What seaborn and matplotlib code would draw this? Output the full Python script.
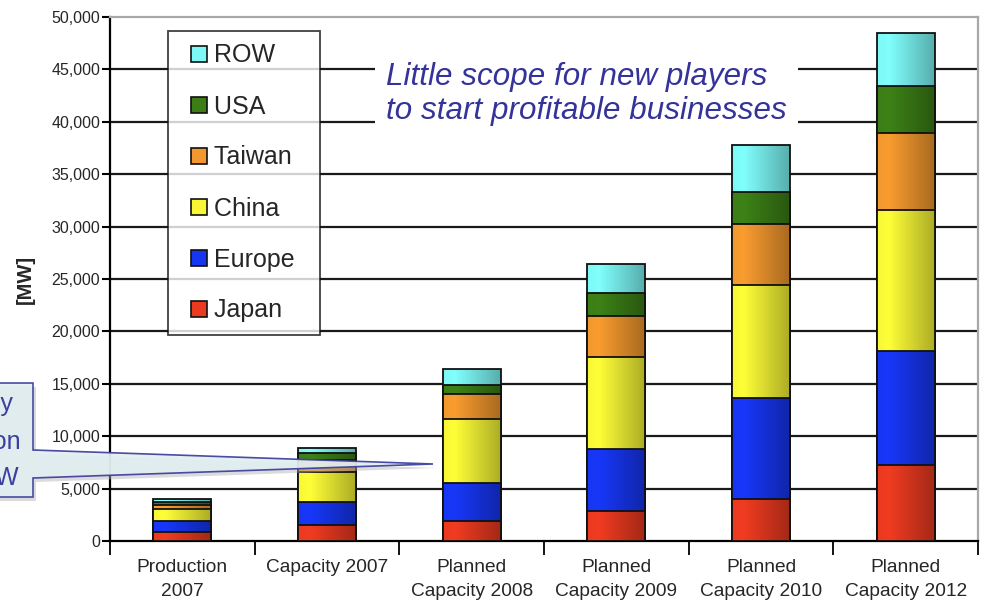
import numpy as np
import seaborn as sns
import matplotlib.pyplot as plt
import matplotlib.colors as mcolors
from matplotlib.lines import Line2D
from matplotlib.patches import Polygon
from matplotlib.ticker import FuncFormatter, FixedLocator

# data (MW)
categories = ["Production\n2007", "Capacity 2007", "Planned\nCapacity 2008",
              "Planned\nCapacity 2009", "Planned\nCapacity 2010", "Planned\nCapacity 2012"]
regions = ["Japan", "Europe", "China", "Taiwan", "USA", "ROW"]
japan = [900, 1500, 1900, 2850, 4050, 7250]
europe = [1050, 2200, 3650, 5900, 9550, 10900]
china = [1150, 2900, 6100, 8850, 10850, 13450]
taiwan = [300, 1100, 2400, 3850, 5800, 7350]
usa = [300, 700, 850, 2200, 3050, 4450]
row = [300, 450, 1500, 2750, 4500, 5050]
colors = ["#EA3A20", "#1736F2", "#F7F736", "#F2982E", "#3B7E16", "#7DF8F6"]
yticks = list(range(0, 50001, 5000))

sns.set_style("white")
plt.rcParams['font.family'] = ['Liberation Sans', 'DejaVu Sans']

fig = plt.figure(figsize=(9.84, 6.03), dpi=100)
ax = fig.add_axes([110 / 984, 1 - 541 / 603, 868 / 984, 524 / 603])

series = [japan, europe, china, taiwan, usa, row]
cum = np.cumsum(np.array(series), axis=0)


def shade(patches, color, z):
    # horizontal light-to-dark gradient inside every bar
    rgb = np.array(mcolors.to_rgb(color))
    t = np.linspace(0, 1, 64)
    fac = np.where(t < 0.2, 1.0 + 0.03 * t / 0.2, 1.03 - 0.33 * (t - 0.2) / 0.8)
    img = np.clip(rgb[None, :] * fac[:, None], 0, 1)[None, :, :]
    for p in patches:
        x0, y0, w, h = p.get_x(), p.get_y(), p.get_width(), p.get_height()
        im = ax.imshow(img, extent=[x0, x0 + w, y0, y0 + h], aspect='auto',
                       interpolation='bilinear', zorder=z)
        im.set_clip_path(p)
        p.set_facecolor('none')
        p.set_zorder(z + 0.5)


# draw cumulative totals from the top layer down so each layer overlays the previous
for k in range(len(regions) - 1, -1, -1):
    n0 = len(ax.patches)
    sns.barplot(x=categories, y=cum[k], color=colors[k], saturation=1, width=0.4,
                errorbar=None, edgecolor='#111111', linewidth=1.3, ax=ax)
    shade(ax.patches[n0:], colors[k], 10 + (5 - k) * 2)

# gridlines
for v in yticks[1:-1]:
    ax.axhline(v, color='#1a1a1a', lw=1.6, zorder=1)

ax.set_xlim(-0.5, 5.5)
ax.set_ylim(0, 50000)
ax.set_yticks(yticks)
ax.yaxis.set_major_formatter(FuncFormatter(lambda v, p: f"{int(v):,}"))
ax.tick_params(axis='y', direction='out', length=6, width=1.5, color='black',
               labelsize=11.5, pad=1, left=True)
ax.tick_params(axis='x', which='major', length=0, labelsize=13.8, pad=13)
ax.xaxis.set_minor_locator(FixedLocator(np.arange(-0.5, 6.0, 1.0)))
ax.tick_params(axis='x', which='minor', direction='out', length=10, width=1.3,
               color='black', bottom=True)
for lab in ax.get_xticklabels():
    lab.set_linespacing(1.5)
ax.set_xlabel("")
ax.set_ylabel("[MW]", fontsize=14.5, fontweight='bold', labelpad=12)

for s in ['left', 'bottom']:
    ax.spines[s].set_color('black')
    ax.spines[s].set_linewidth(1.6)
for s in ['top', 'right']:
    ax.spines[s].set_color('#a8a8a8')
    ax.spines[s].set_linewidth(1.6)
    ax.spines[s].set_visible(True)

# legend
handles = [Line2D([], [], linestyle='none', marker='s', markersize=12,
                  markerfacecolor=colors[k], markeredgecolor='#111111',
                  markeredgewidth=1.2, label=regions[k] + "\u2002")
           for k in range(len(regions) - 1, -1, -1)]
leg = ax.legend(handles=handles, loc='upper left', bbox_to_anchor=(58 / 868, 1 - 14 / 524),
                borderaxespad=0, fontsize=18, frameon=True, fancybox=False,
                handlelength=1.45, handletextpad=-0.1,
                labelspacing=1.08, borderpad=0.5)
leg.get_frame().set_edgecolor('#111111')
leg.get_frame().set_linewidth(1.3)
leg.set_zorder(30)

# message text
ax.text(276 / 868, (541 - 94) / 524,
        "Little scope for new players\nto start profitable businesses",
        transform=ax.transAxes, ha='left', va='center', fontsize=22.6, style='italic',
        color='#33339a', linespacing=1.15, zorder=25,
        bbox=dict(facecolor='white', edgecolor='none', pad=8))

# callout on the left edge, pointing at the 2008 bar
px = [(-60, 383), (33, 383), (33, 450), (433, 464), (33, 478), (33, 497), (-60, 497)]
shadow = Polygon([((x + 3) / 984, 1 - (y + 4) / 603) for x, y in px], closed=True,
                 transform=fig.transFigure, facecolor='#b0b0b0', edgecolor='none',
                 alpha=0.45, zorder=40)
call = Polygon([(x / 984, 1 - y / 603) for x, y in px], closed=True,
               transform=fig.transFigure, facecolor='#e1eef0', edgecolor='#3b3f9e',
               linewidth=1.2, alpha=0.93, zorder=41)
fig.add_artist(shadow)
fig.add_artist(call)
for txt, xr, yc in [("Industry", 14, 404), ("production", 21, 442), ("~4 GW", 19, 478)]:
    fig.text(xr / 984, 1 - yc / 603, txt, ha='right', va='center', fontsize=18,
             color='#3b3f9e', zorder=42)

fig.savefig("out.png", dpi=100)
